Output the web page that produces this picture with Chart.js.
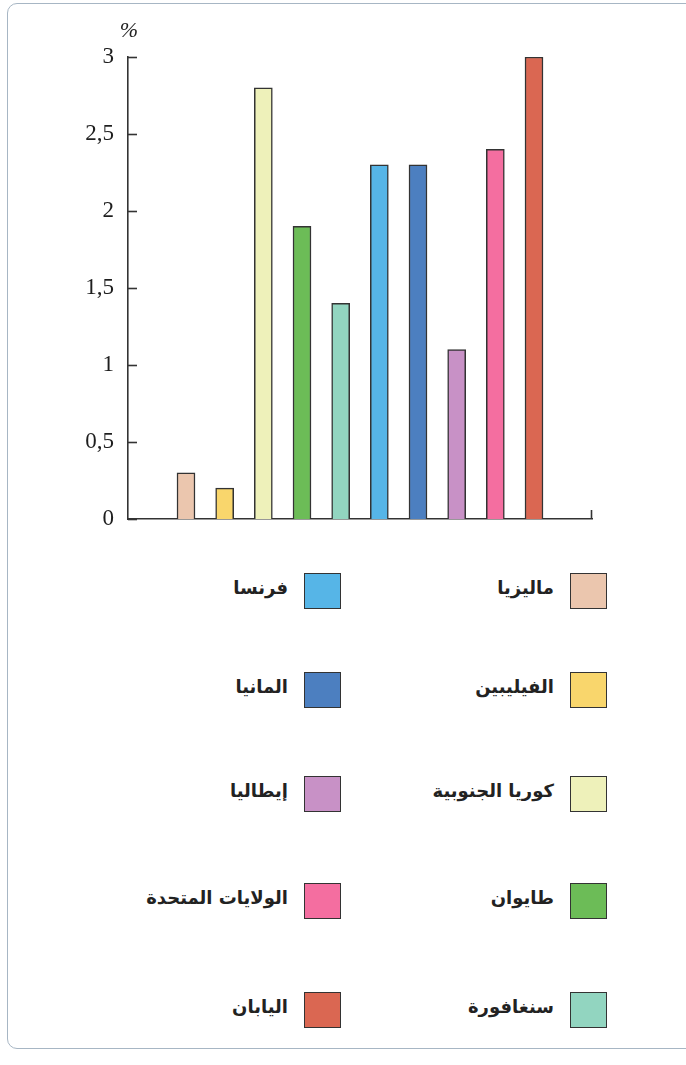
<!DOCTYPE html>
<html>
<head>
<meta charset="utf-8">
<script src="https://cdn.jsdelivr.net/npm/chart.js@4"></script>
<style>
  html, body { margin:0; padding:0; background:#fff; }
  body { width:686px; height:1065px; position:relative; overflow:hidden; }
  #frame { position:absolute; left:7px; top:3px; width:700px; height:1046px; border:1.5px solid #a7b6c4; border-radius:10px; box-sizing:border-box; }
  #chartBox { position:absolute; left:0; top:0; width:686px; height:560px; }
  .sw { position:absolute; width:37px; height:36px; border:1.6px solid #333; box-sizing:border-box; }
  .lt { position:absolute; font-family:"DejaVu Sans", sans-serif; font-weight:bold; font-size:18px; color:#222; direction:rtl; text-align:right; white-space:nowrap; width:200px; line-height:24px; }
</style>
</head>
<body>
<div id="frame"></div>
<div id="chartBox"><canvas id="c" width="686" height="560"></canvas></div>
<div id="legend"></div>
<script>
// ---- data ----
const countries = ["ماليزيا", "الفيليبين", "كوريا الجنوبية", "طايوان", "سنغافورة", "فرنسا", "المانيا", "إيطاليا", "الولايات المتحدة", "اليابان"];
const values = [0.3, 0.2, 2.8, 1.9, 1.4, 2.3, 2.3, 1.1, 2.4, 3.0];
const colors = ["#ebc6ae", "#f9d66c", "#eef1ba", "#6cbc57", "#92d5c0", "#56b5e7", "#4c7fc0", "#c891c6", "#f46ea0", "#da6752"];
const yTicks = [0, 0.5, 1, 1.5, 2, 2.5, 3];
const yUnit = "%";

// padded category layout (empty slot at each end)
const labels = [""].concat(countries, [""]);
const dataPadded = [null].concat(values, [null]);
const colorsPadded = ["rgba(0,0,0,0)"].concat(colors, ["rgba(0,0,0,0)"]);

const axisColor = "#333";

const extras = {
  id: "extras",
  afterDraw(chart) {
    const ctx = chart.ctx;
    const y = chart.scales.y;
    const left = chart.chartArea.left, right = chart.chartArea.right, bottom = chart.chartArea.bottom;
    ctx.save();
    ctx.strokeStyle = axisColor;
    ctx.lineWidth = 1.6;
    // inward y ticks
    yTicks.forEach(v => {
      const py = Math.round(y.getPixelForValue(v)) + 0.5;
      ctx.beginPath();
      ctx.moveTo(left, py);
      ctx.lineTo(left + 9, py);
      ctx.stroke();
    });
    // right end tick on x axis
    ctx.beginPath();
    ctx.moveTo(right - 0.5, bottom);
    ctx.lineTo(right - 0.5, bottom - 9);
    ctx.stroke();
    // unit label
    ctx.fillStyle = "#222";
    ctx.font = "italic 22px 'Liberation Serif', serif";
    ctx.textAlign = "center";
    ctx.textBaseline = "middle";
    ctx.fillText(yUnit, left + 1, 31);
    ctx.restore();
  }
};

new Chart(document.getElementById("c"), {
  type: "bar",
  data: {
    labels: labels,
    datasets: [{
      data: dataPadded,
      backgroundColor: colorsPadded,
      borderColor: axisColor,
      borderWidth: 1.5,
      barThickness: 18
    }]
  },
  options: {
    responsive: false,
    animation: false,
    devicePixelRatio: 1,
    layout: { padding: { top: 57, right: 94, bottom: 41, left: 0 } },
    plugins: { legend: { display: false }, tooltip: { enabled: false } },
    scales: {
      x: {
        type: "category",
        offset: true,
        grid: { display: false, drawTicks: false },
        border: { display: true, color: axisColor, width: 1.6 },
        ticks: { display: false }
      },
      y: {
        min: 0, max: 3,
        afterFit(scale) { scale.width = 128; },
        afterBuildTicks(scale) { scale.ticks = yTicks.map(v => ({ value: v })); },
        grid: { display: false, drawTicks: false },
        border: { display: true, color: axisColor, width: 1.6 },
        ticks: {
          padding: 14,
          color: "#1e1e1e",
          font: { family: "'Liberation Serif', serif", size: 23 },
          callback: v => String(v).replace(".", ",")
        }
      }
    }
  },
  plugins: [extras]
});

// ---- legend (two columns, right column first, RTL) ----
const legend = document.getElementById("legend");
const rowY = [591, 690, 794, 901, 1010];
const colSwatchX = [570, 304];
countries.forEach((name, i) => {
  const col = Math.floor(i / 5), row = i % 5;
  const sx = colSwatchX[col], cy = rowY[row];
  const sw = document.createElement("div");
  sw.className = "sw";
  sw.style.left = sx + "px";
  sw.style.top = (cy - 18) + "px";
  sw.style.background = colors[i];
  legend.appendChild(sw);
  const t = document.createElement("div");
  t.className = "lt";
  t.textContent = name;
  t.style.left = (sx - 16 - 200) + "px";
  t.style.top = (cy - 15) + "px";
  legend.appendChild(t);
});
</script>
</body>
</html>
